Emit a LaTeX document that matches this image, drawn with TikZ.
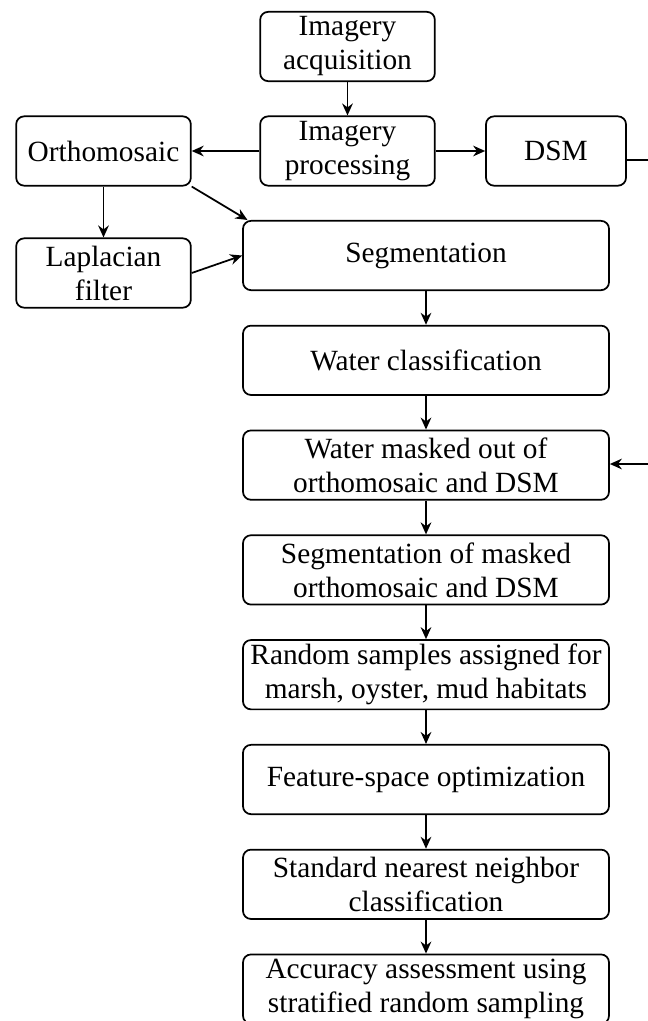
\documentclass[tikz,border=0pt]{standalone}
\usepackage{fontspec}
\setmainfont{Liberation Serif}
\usetikzlibrary{arrows.meta}
\begin{document}
\begin{tikzpicture}
[x=0.75pt,y=-0.75pt,
stage/.style={draw,line width=1.3pt,rounded corners=6pt,align=center,inner sep=0pt,
  minimum height=52pt,font=\fontsize{22}{25.5}\selectfont},
side stage/.style={stage,minimum width=131pt},
main stage/.style={stage,minimum width=274.5pt},
flow/.style={line width=1.3pt,-{Stealth[length=9pt,width=8pt]}}]
\useasboundingbox (0,0) rectangle (648,1021);
% upper part
\node[side stage] (acq) at (347.5,46.5) {Imagery\\acquisition};
\node[side stage] (proc) at (347.5,151) {Imagery\\processing};
\node[side stage] (ortho) at (103.5,151) {Orthomosaic};
\node[side stage] (lap) at (103.5,273) {Laplacian\\filter};
\node[stage,minimum width=105pt] (dsm) at (556,151) {DSM};
% main column
\begin{scope}[node distance=78.6pt]
\node[main stage] (seg) at (426,255.5) {Segmentation};
\node[main stage] (water) [below of=seg] {Water classification};
\node[main stage] (mask) [below of=water] {Water masked out of\\orthomosaic and DSM};
\node[main stage] (segmask) [below of=mask] {Segmentation of masked\\orthomosaic and DSM};
\node[main stage] (samples) [below of=segmask] {Random samples assigned for\\marsh, oyster, mud habitats};
\node[main stage] (feature) [below of=samples] {Feature-space optimization};
\node[main stage] (nn) [below of=feature] {Standard nearest neighbor\\classification};
\node[main stage] (acc) [below of=nn] {Accuracy assessment using\\stratified random sampling};
\end{scope}
\coordinate (dsmout) at (652,160);
\coordinate (maskin) at (652,464);
\draw[flow] (acq) -- (proc);
\draw[flow] (proc) -- (ortho);
\draw[flow] (proc) -- (dsm);
\draw[line width=1.3pt] (dsm.east |- dsmout) -- (dsmout);
\draw[flow] (maskin) -- (mask.east |- maskin);
\draw[flow] (ortho) -- (lap);
\draw[flow] (ortho.south east) -- ([xshift=4pt]seg.north west);
\draw[flow] (lap.east) -- (seg.west);
\draw[flow] (seg) -- (water);
\draw[flow] (water) -- (mask);
\draw[flow] (mask) -- (segmask);
\draw[flow] (segmask) -- (samples);
\draw[flow] (samples) -- (feature);
\draw[flow] (feature) -- (nn);
\draw[flow] (nn) -- (acc);
\end{tikzpicture}
\end{document}
